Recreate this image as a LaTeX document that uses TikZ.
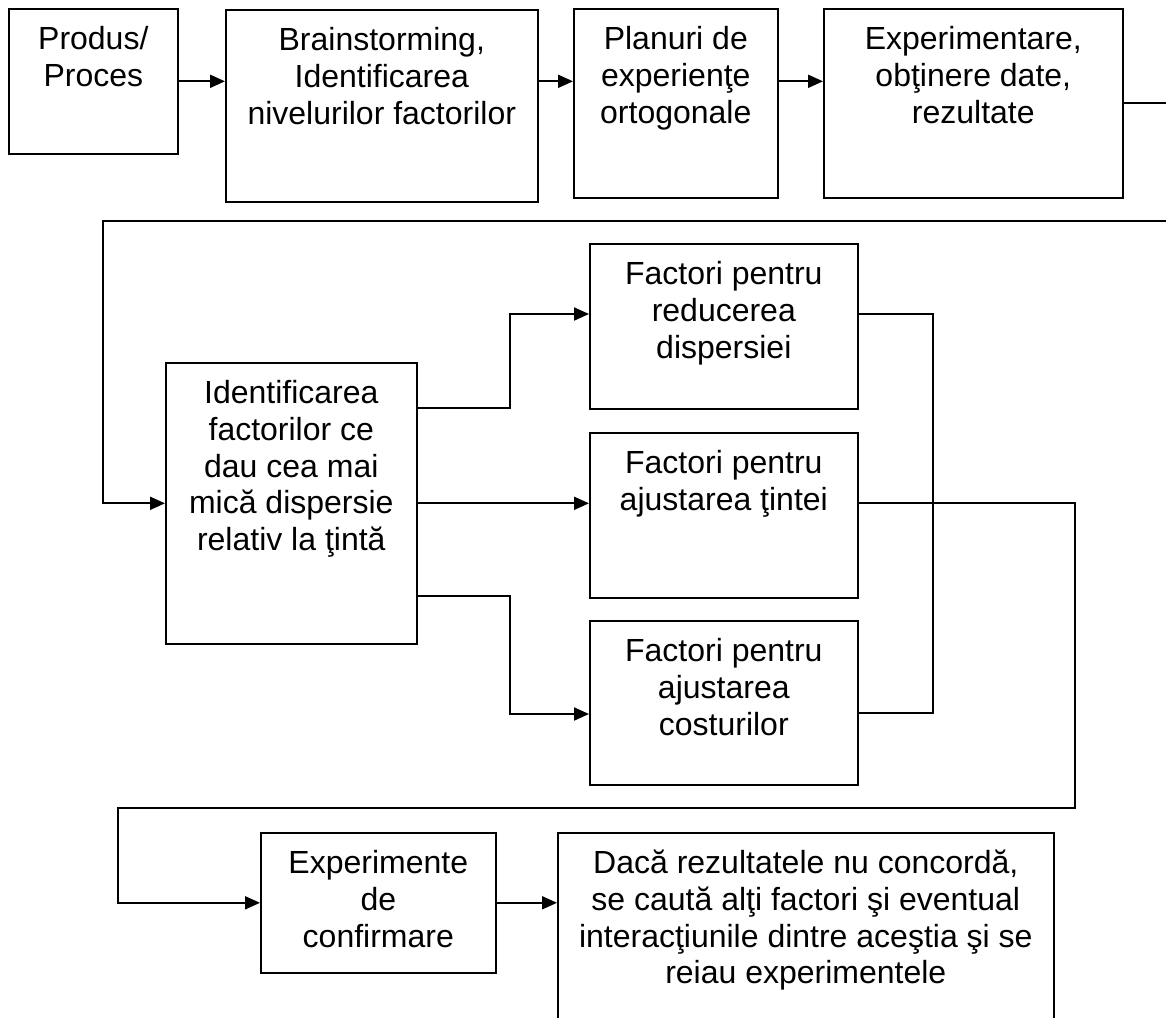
\documentclass[tikz,border=0pt]{standalone}
\usepackage{fontspec}
\setmainfont{Liberation Sans}
\usetikzlibrary{arrows.meta}
% box contents: width, height, lines (first baseline 41pt below the top edge)
\newcommand\boxtext[3]{\parbox[c][#2][t]{#1}{\centering\rule{0pt}{41pt}#3}}
\begin{document}
\begin{tikzpicture}[x=1pt,y=-1pt,
  blk/.style={draw, line width=1.6pt, inner sep=0pt, anchor=north west,
    font=\fontsize{32pt}{36.7pt}\selectfont},
  flow/.style={line width=1.9pt, -{Triangle[length=15pt,width=13pt]}},
  wire/.style={line width=1.4pt},
]
\useasboundingbox (0,0) rectangle (1166,1017);

% top row
\node[blk] (prod)  at (8,8)   {\boxtext{169pt}{145pt}{Produs/\\Proces}};
\node[blk] (brain) at (225,9) {\boxtext{312pt}{192pt}{Brainstorming,\\Identificarea\\nivelurilor factorilor}};
\node[blk] (plan)  at (573,8) {\boxtext{204pt}{189pt}{Planuri de\\experienţe\\ortogonale}};
\node[blk] (exper) at (823,8) {\boxtext{299pt}{189pt}{Experimentare,\\obţinere date,\\rezultate}};

% middle block
\node[blk] (ident) at (165,362) {\boxtext{251pt}{281pt}{Identificarea\\factorilor ce\\dau cea mai\\mică dispersie\\relativ la ţintă}};
\node[blk] (f1) at (589,243) {\boxtext{268pt}{165pt}{Factori pentru\\reducerea\\dispersiei}};
\node[blk] (f2) at (589,432) {\boxtext{268pt}{165pt}{Factori pentru\\ajustarea ţintei}};
\node[blk] (f3) at (589,620) {\boxtext{268pt}{164pt}{Factori pentru\\ajustarea\\costurilor}};

% bottom row
\node[blk] (cexp) at (260,832) {\boxtext{235pt}{140pt}{Experimente\\de\\confirmare}};
\node[blk] (dac)  at (557,832) {\boxtext{496pt}{210pt}{Dacă rezultatele nu concordă,\\se caută alţi factori şi eventual\\interacţiunile dintre aceştia şi se\\reiau experimentele}};

% top row arrows
\draw[flow] (prod.east) -- (prod.east -| brain.west);
\draw[flow] (prod.east -| brain.east) -- (prod.east -| plan.west);
\draw[flow] (prod.east -| plan.east) -- (prod.east -| exper.west);

% return loop to the middle block
\coordinate (loopR) at (1180,221);
\coordinate (loopL) at (103,221);
\draw[flow] (exper.east) -| (loopR) -- (loopL) |- (ident.west);

% branches to the three factor groups
\coordinate (ju) at (510,408);
\coordinate (tu) at (510,314);
\coordinate (jd) at (510,596);
\coordinate (td) at (510,714);
\draw[flow] (ident.east |- ju) -- (ju) -- (tu) -- (tu -| f1.west);
\draw[flow] (ident.east) -- (ident.east -| f2.west);
\draw[flow] (ident.east |- jd) -- (jd) -- (td) -- (td -| f3.west);

% outputs of the factor groups
\coordinate (ru) at (933,314);
\coordinate (rd) at (933,713);
\draw[wire] (tu -| f1.east) -- (ru) -- (rd) -- (rd -| f3.east);
\coordinate (r2) at (1075,808);
\coordinate (l2) at (118,808);
\draw[flow] (ident.east -| f2.east) -- (ident.east -| r2) -- (r2) -- (l2) |- (cexp.west);
\draw[flow] (cexp.east) -- (cexp.east -| dac.west);
\end{tikzpicture}
\end{document}
